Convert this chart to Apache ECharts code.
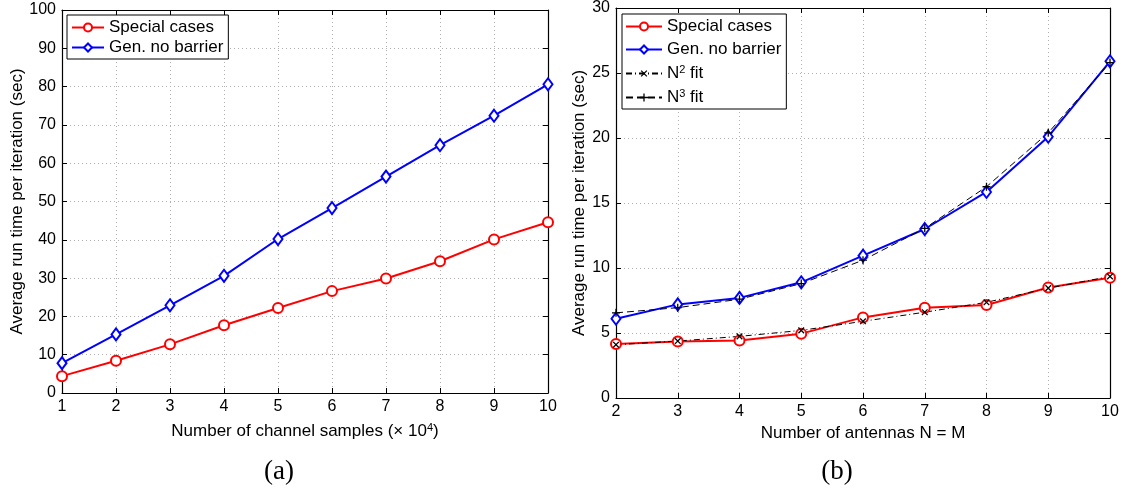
<!DOCTYPE html>
<html>
<head>
<meta charset="utf-8">
<script src="https://cdn.jsdelivr.net/npm/echarts@6/dist/echarts.min.js"></script>
<style>
html,body{margin:0;padding:0;background:#fff;}
#c{width:1131px;height:491px;}
</style>
</head>
<body>
<div id="c"></div>
<script>
// ---- Data (a) ----
const samplesA = [1, 2, 3, 4, 5, 6, 7, 8, 9, 10];
const specialA = [4.4, 8.4, 12.7, 17.7, 22.2, 26.6, 29.9, 34.4, 40.1, 44.6];
const genA     = [7.8, 15.3, 22.9, 30.6, 40.2, 48.3, 56.5, 64.7, 72.4, 80.6];
// ---- Data (b) ----
const antennasB = [2, 3, 4, 5, 6, 7, 8, 9, 10];
const specialB  = [4.15, 4.35, 4.42, 4.95, 6.2, 6.95, 7.15, 8.5, 9.25];
const genB      = [6.1, 7.2, 7.7, 8.9, 10.95, 13.0, 15.85, 20.1, 25.9];
const n2fitB    = [4.1, 4.38, 4.74, 5.2, 5.9, 6.6, 7.36, 8.45, 9.35];
const n3fitB    = [6.55, 6.95, 7.6, 8.8, 10.6, 13.05, 16.25, 20.4, 25.8];
// ---- Tick settings ----
const yTicksA = {min: 0, max: 100, interval: 10};
const yTicksB = {min: 0, max: 30, interval: 5};

const pairs = (xs, ys) => xs.map((x, i) => [x, ys[i]]);
const FONT = 'Liberation Sans, Arial, sans-serif';
const TICK = 16, TXT = 17;
const XPATH = 'path://M0,4.2H10V5.8H0Z M4.2,0H5.8V10H4.2Z';
const RICH = {
  n: {fontSize: TXT, fontFamily: FONT, color: '#000'},
  s: {fontSize: 11, fontFamily: FONT, color: '#000', verticalAlign: 'top', padding: [0, 0, 8, 0]}
};

function axisBase(show) {
  return {
    axisLine: {show: true, onZero: false, lineStyle: {color: '#000', width: 1.2}},
    axisTick: {show: true, inside: true, length: 5, lineStyle: {color: '#000'}},
    axisLabel: {show: show, color: '#000', fontSize: TICK, fontFamily: FONT},
  };
}
function xAxes(gi, min, max, name, gap) {
  const b = Object.assign(axisBase(true), {
    type: 'value', gridIndex: gi, min: min, max: max, interval: 1, position: 'bottom',
    splitLine: {show: true, lineStyle: {color: '#b0b0b0', type: [1, 3], width: 1}},
    name: name, nameLocation: 'middle', nameGap: gap,
    nameTextStyle: {color: '#000', fontSize: TXT, fontFamily: FONT, rich: RICH}
  });
  b.axisLabel.margin = 6;
  const t = Object.assign(axisBase(false), {
    type: 'value', gridIndex: gi, min: min, max: max, interval: 1, position: 'top',
    splitLine: {show: false}
  });
  return [b, t];
}
function yAxes(gi, tk, gap) {
  const b = Object.assign(axisBase(true), {
    type: 'value', gridIndex: gi, min: tk.min, max: tk.max, interval: tk.interval, position: 'left',
    splitLine: {show: true, lineStyle: {color: '#b0b0b0', type: [1, 3], width: 1}},
    name: 'Average run time per iteration (sec)', nameLocation: 'middle', nameGap: gap,
    nameTextStyle: {color: '#000', fontSize: TXT, fontFamily: FONT}
  });
  b.axisLabel.margin = 6;
  const t = Object.assign(axisBase(false), {
    type: 'value', gridIndex: gi, min: tk.min, max: tk.max, interval: tk.interval, position: 'right',
    splitLine: {show: false}
  });
  return [b, t];
}

const xa = xAxes(0, 1, 10, '{n|Number of channel samples (× 10}{s|4}{n|)}', 29);
const xb = xAxes(1, 2, 10, 'Number of antennas N = M', 27);
const ya = yAxes(0, yTicksA, 36);
const yb = yAxes(1, yTicksB, 27);

const redStyle = {color: '#ff0000'};
const blueStyle = {color: '#0000ff'};

const option = {
  animation: false,
  backgroundColor: '#fff',
  grid: [
    {left: 62, top: 10, width: 486, height: 383},
    {left: 616, top: 8, width: 494, height: 390}
  ],
  xAxis: [xa[0], xa[1], xb[0], xb[1]],
  yAxis: [ya[0], ya[1], yb[0], yb[1]],
  legend: [
    {
      left: 67, top: 15, orient: 'vertical', backgroundColor: '#fff',
      borderColor: '#000', borderWidth: 1, borderRadius: 0,
      padding: [4, 5, 3, 4], itemGap: 3, itemWidth: 32, itemHeight: 10,
      textStyle: {color: '#000', fontSize: TXT, fontFamily: FONT},
      data: ['Special cases', 'Gen. no barrier'].map(n => ({name: n})),
      selectedMode: false
    },
    {
      left: 622, top: 14, orient: 'vertical', backgroundColor: '#fff',
      borderColor: '#000', borderWidth: 1, borderRadius: 0,
      padding: [4, 5, 3, 3], itemGap: 6, itemWidth: 36, itemHeight: 10,
      textStyle: {color: '#000', fontSize: TXT, fontFamily: FONT, rich: RICH},
      formatter: function (name) {
        if (name === 'N2 fit') return '{n|N}{s|2}{n| fit}';
        if (name === 'N3 fit') return '{n|N}{s|3}{n| fit}';
        return '{n|' + name.trim() + '}';
      },
      data: ['Special cases ', 'Gen. no barrier ', 'N2 fit', 'N3 fit'].map(n => ({name: n})),
      selectedMode: false
    }
  ],
  graphic: [
    {type: 'text', x: 279, y: 472, style: {text: '(a)', fontSize: 27, fontFamily: 'Liberation Serif, DejaVu Serif, serif', fill: '#000', align: 'center', verticalAlign: 'middle'}},
    {type: 'text', x: 837, y: 472, style: {text: '(b)', fontSize: 27, fontFamily: 'Liberation Serif, DejaVu Serif, serif', fill: '#000', align: 'center', verticalAlign: 'middle'}}
  ],
  series: [
    {name: 'Special cases', type: 'line', xAxisIndex: 0, yAxisIndex: 0, data: pairs(samplesA, specialA),
     symbol: 'emptyCircle', symbolSize: 10, lineStyle: {color: '#ff0000', width: 2}, itemStyle: redStyle},
    {name: 'Gen. no barrier', type: 'line', xAxisIndex: 0, yAxisIndex: 0, data: pairs(samplesA, genA),
     symbol: 'emptyDiamond', symbolSize: [9, 12], lineStyle: {color: '#0000ff', width: 2}, itemStyle: blueStyle},

    {name: 'Special cases ', type: 'line', xAxisIndex: 2, yAxisIndex: 2, data: pairs(antennasB, specialB),
     symbol: 'emptyCircle', symbolSize: 10, lineStyle: {color: '#ff0000', width: 2}, itemStyle: redStyle},
    {name: 'Gen. no barrier ', type: 'line', xAxisIndex: 2, yAxisIndex: 2, data: pairs(antennasB, genB),
     symbol: 'emptyDiamond', symbolSize: [9, 12], lineStyle: {color: '#0000ff', width: 2}, itemStyle: blueStyle},
    {name: 'N2 fit', type: 'line', xAxisIndex: 2, yAxisIndex: 2, data: pairs(antennasB, n2fitB),
     symbol: XPATH, symbolRotate: 45, symbolSize: 8,
     lineStyle: {color: '#000', width: 1, type: [6, 3, 1, 3]}, itemStyle: {color: '#000'}},
    {name: 'N3 fit', type: 'line', xAxisIndex: 2, yAxisIndex: 2, data: pairs(antennasB, n3fitB),
     symbol: XPATH, symbolSize: 8,
     lineStyle: {color: '#000', width: 1, type: [7, 4]}, itemStyle: {color: '#000'}}
  ]
};

const chart = echarts.init(document.getElementById('c'), null, {renderer: 'canvas'});
chart.setOption(option);
</script>
</body>
</html>
